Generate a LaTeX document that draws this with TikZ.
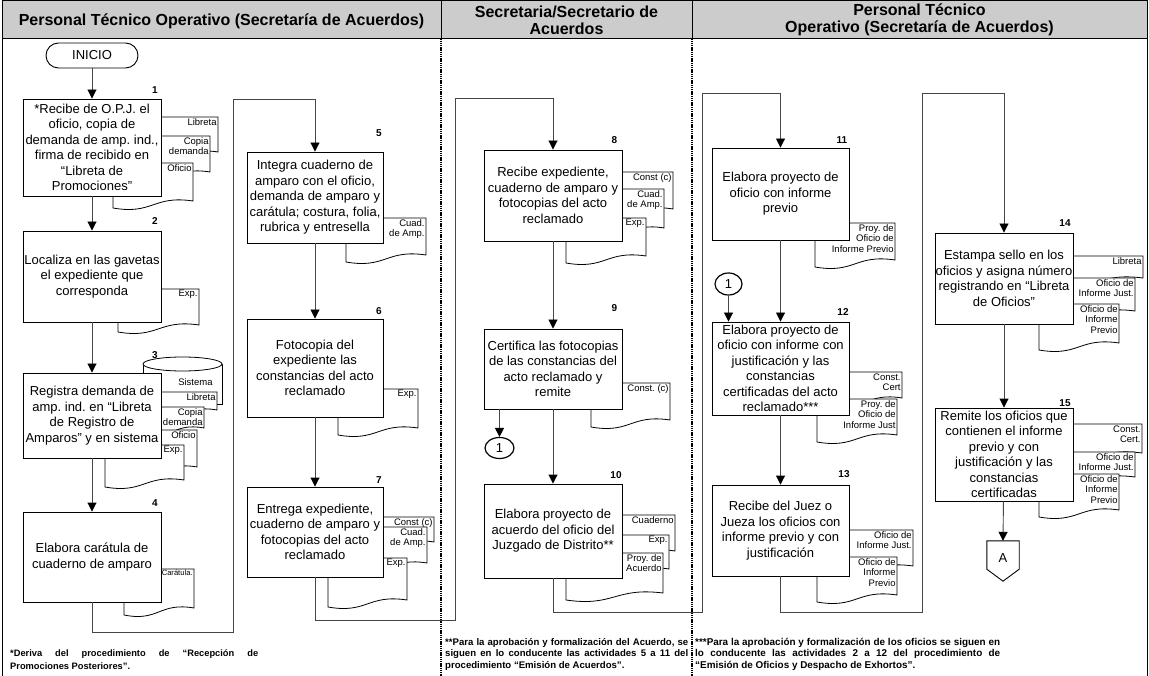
\documentclass[tikz,border=0pt]{standalone}
\usepackage{fontspec}
\setmainfont{Liberation Sans}
\usetikzlibrary{arrows.meta,shapes.geometric}
\definecolor{headfill}{RGB}{204,204,204}
\definecolor{flowgray}{RGB}{70,70,70}
\frenchspacing

% document sheet with wavy bottom: name, x1, y1, x2, y2, label
\newcommand\docsheet[6]{%
  \pgfmathsetmacro\dsmid{(#2+#4)/2}%
  \filldraw[sheet] (#2,#3) -- (#4,#3) -- (#4,#5-7)
    .. controls (\dsmid,#5-13) and (\dsmid,#5+7) .. (#2,#5) -- cycle;
  \node[doclabel] (#1) at (#4,#3) {#6};
}

\begin{document}
\begin{tikzpicture}[x=1pt,y=-1pt,
  procbox/.style={draw, fill=white, line width=0.9pt, align=center,
    inner xsep=0pt, inner ysep=1pt, font=\fontsize{13}{15.5}\selectfont},
  sheet/.style={draw, fill=white, line width=0.8pt},
  doclabel/.style={anchor=north east, align=right, inner sep=1.2pt,
    font=\fontsize{9.5}{10.5}\selectfont},
  stepnum/.style={inner sep=0pt, font=\bfseries\fontsize{10}{12}\selectfont},
  lanehead/.style={align=center, font=\bfseries\fontsize{16}{17}\selectfont},
  flow/.style={draw=flowgray, line width=0.9pt,
    -{Triangle[width=9pt,length=9pt,color=black]}},
  pageref/.style={draw, ellipse, line width=1.2pt, fill=white, inner sep=0pt,
    minimum width=29pt, minimum height=21pt, font=\fontsize{13}{15}\selectfont},
  note/.style={anchor=north west, align=left, inner sep=0pt},
  lanediv/.style={line width=2pt, dash pattern=on 1.4pt off 0.8pt},
]
\useasboundingbox (0,0) rectangle (1149,676);

% ---------- frame and lane headers ----------
\fill[headfill] (2,0.5) rectangle (1147,38.5);
\draw[line width=0.9pt] (2,676) -- (2,0.5) -- (1147,0.5) -- (1147,676);
\draw[line width=0.9pt] (2,38.5) -- (1147,38.5);
\draw[line width=0.9pt] (441,0.5) -- (441,38.5);
\draw[line width=0.9pt] (692,0.5) -- (692,38.5);
\draw[lanediv] (441,38.5) -- (441,676);
\draw[lanediv] (692,38.5) -- (692,676);

\node[lanehead] (h1) at (221.5,21) {Personal Técnico Operativo (Secretaría de Acuerdos)};
\node[lanehead] (h2) at (566.5,20) {Secretaria/Secretario de\\Acuerdos};
\node[lanehead] (h3) at (919.5,20) {Personal Técnico\\Operativo (Secretaría de Acuerdos)};

% ---------- documents (drawn back to front) ----------
% step 1
\docsheet{d1a}{140}{117}{218}{159}{Libreta}
\docsheet{d1b}{135}{136}{210}{179}{Copia\\demanda}
\docsheet{d1c}{113}{163}{193}{208}{Oficio}
% step 2
\docsheet{d2a}{118}{289}{199}{332}{Exp.}
% step 3
\filldraw[sheet] (143,364) -- (143,404) -- (222,404) -- (222,364);
\filldraw[sheet] (182.5,364) ellipse [x radius=39.5pt, y radius=7pt];
\node[doclabel] (d3s) at (214,377) {Sistema};
\docsheet{d3a}{150}{392}{217}{417}{Libreta}
\docsheet{d3b}{140}{407}{204}{435}{Copia\\demanda}
\docsheet{d3c}{130}{430}{197}{474}{Oficio}
\docsheet{d3d}{105}{445}{184}{487}{Exp.}
% step 4
\docsheet{d4a}{124}{569}{194}{615}{\fontsize{7.6}{9}\selectfont Carátula.}
% step 5
\docsheet{d5a}{346}{218}{426}{262}{Cuad.\\de Amp.}
% step 6
\docsheet{d6a}{338}{389}{418}{435}{Exp.}
% step 7
\docsheet{d7a}{360}{517}{434}{549}{Const (c)}
\docsheet{d7b}{355}{527}{427}{570}{Cuad.\\de Amp.}
\docsheet{d7c}{328}{558}{407}{607}{Exp.}
% step 8
\docsheet{d8a}{600}{172}{673}{216}{Const (c)}
\docsheet{d8b}{595}{189}{664}{235}{Cuad.\\de Amp.}
\docsheet{d8c}{566}{218}{646}{263}{Exp.}
% step 9
\docsheet{d9a}{591}{383}{670}{427}{Const. (c)}
% step 10
\docsheet{d10a}{600}{515}{675}{558}{Cuaderno}
\docsheet{d10b}{595}{535}{669}{576}{Exp.}
\docsheet{d10c}{566}{553}{663}{600}{Proy. de\\Acuerdo}
% step 11
\docsheet{d11a}{815}{223}{895}{267}{Proy. de\\Oficio de\\Informe Previo}
% step 12
\docsheet{d12a}{830}{372}{902}{405}{Const.\\Cert}
\docsheet{d12b}{817}{399}{897}{442}{Proy. de\\Oficio de\\Informe Just}
% step 13
\docsheet{d13a}{830}{530}{913}{573}{Oficio de\\Informe Just.}
\docsheet{d13b}{817}{557}{897}{602}{Oficio de\\Informe\\Previo}
% step 14
\docsheet{d14a}{1050}{256}{1143}{285}{Libreta}
\docsheet{d14b}{1045}{278}{1135}{318}{Oficio de\\Informe Just.}
\docsheet{d14c}{1039}{304}{1119}{350}{Oficio de\\Informe\\Previo}
% step 15
\docsheet{d15a}{1050}{424}{1142}{460}{Const.\\Cert.}
\docsheet{d15b}{1045}{452}{1135}{484}{Oficio de\\Informe Just.}
\docsheet{d15c}{1039}{474}{1119}{517}{Oficio de\\Informe\\Previo}

% ---------- start terminal and activities ----------
\node[draw, fill=white, line width=0.9pt, rounded corners=12.5pt,
  minimum width=92pt, minimum height=25pt, inner sep=0pt,
  font=\fontsize{13}{15}\selectfont] (ini) at (92,55.5) {INICIO};

\node[procbox, minimum width=138pt, minimum height=97pt] (b1) at (92,147.5)
  {*Recibe de O.P.J. el\\oficio, copia de\\demanda de amp. ind.,\\firma de recibido en\\“Libreta de\\Promociones”};
\node[procbox, minimum width=138pt, minimum height=91pt] (b2) at (92,276.5)
  {Localiza en las gavetas\\el expediente que\\corresponda};
\node[procbox, minimum width=138pt, minimum height=85pt] (b3) at (92,415.5)
  {Registra demanda de\\amp. ind. en “Libreta\\de Registro de\\Amparos” y en sistema};
\node[procbox, minimum width=138pt, minimum height=90pt] (b4) at (92,557)
  {Elabora carátula de\\cuaderno de amparo};

\node[procbox, minimum width=136pt, minimum height=91pt] (b5) at (315,197.5)
  {Integra cuaderno de\\amparo con el oficio,\\demanda de amparo y\\carátula; costura, folia,\\rubrica y entresella};
\node[procbox, minimum width=136pt, minimum height=98pt] (b6) at (315,368)
  {Fotocopia del\\expediente las\\constancias del acto\\reclamado};
\node[procbox, minimum width=136pt, minimum height=90pt] (b7) at (315,532)
  {Entrega expediente,\\cuaderno de amparo y\\fotocopias del acto\\reclamado};

\node[procbox, minimum width=138pt, minimum height=91pt] (b8) at (553,195.5)
  {Recibe expediente,\\cuaderno de amparo y\\fotocopias del acto\\reclamado};
\node[procbox, minimum width=138pt, minimum height=80pt] (b9) at (553,369)
  {Certifica las fotocopias\\de las constancias del\\acto reclamado y\\remite};
\node[procbox, minimum width=138pt, minimum height=94pt] (b10) at (553,531)
  {Elabora proyecto de\\acuerdo del oficio del\\Juzgado de Distrito**};

\node[procbox, minimum width=137pt, minimum height=92pt] (b11) at (780.5,194)
  {Elabora proyecto de\\oficio con informe\\previo};
\node[procbox, minimum width=137pt, minimum height=93pt] (b12) at (780.5,368.5)
  {Elabora proyecto de\\oficio con informe con\\justificación y las\\constancias\\certificadas del acto\\reclamado***};
\node[procbox, minimum width=137pt, minimum height=91pt] (b13) at (780.5,530.5)
  {Recibe del Juez o\\Jueza los oficios con\\informe previo y con\\justificación};

\node[procbox, minimum width=138pt, minimum height=91pt] (b14) at (1004,278.5)
  {Estampa sello en los\\oficios y asigna número\\registrando en “Libreta\\de Oficios”};
\node[procbox, minimum width=138pt, minimum height=93pt] (b15) at (1004,454.5)
  {Remite los oficios que\\contienen el informe\\previo y con\\justificación y las\\constancias\\certificadas};

% ---------- step numbers ----------
\node[stepnum] (n1) at (155,90) {1};
\node[stepnum] (n2) at (155,221) {2};
\node[stepnum] (n3) at (155,355) {3};
\node[stepnum] (n4) at (155,503) {4};
\node[stepnum] (n5) at (379,133) {5};
\node[stepnum] (n6) at (379,311) {6};
\node[stepnum] (n7) at (379,480) {7};
\node[stepnum] (n8) at (614.5,140) {8};
\node[stepnum] (n9) at (614.5,308.5) {9};
\node[stepnum] (n10) at (616,475) {10};
\node[stepnum] (n11) at (842,140) {11};
\node[stepnum] (n12) at (843,312) {12};
\node[stepnum] (n13) at (844,474) {13};
\node[stepnum] (n14) at (1065,223.5) {14};
\node[stepnum] (n15) at (1065,403.5) {15};

% ---------- on-page references and off-page connector ----------
\node[pageref] (c1) at (499.5,448) {1};
\node[pageref, minimum width=27pt, minimum height=22pt] (c2) at (728.5,284) {1};
\node[inner sep=0pt, minimum width=32pt, minimum height=34pt,
  font=\fontsize{13}{15}\selectfont] (A) at (1003,558) {A};
\draw[line width=0.9pt] (A.north west) -- (A.north east) -- ([yshift=6pt]A.south east)
  -- ([yshift=-6pt]A.south) -- ([yshift=6pt]A.south west) -- cycle;

% ---------- flow ----------
\draw[flow] (ini) -- (b1);
\draw[flow] (b1) -- (b2);
\draw[flow] (b2) -- (b3);
\draw[flow] (b3) -- (b4);
\coordinate (k1) at (233,632);
\coordinate (k2) at (233,99);
\draw[flow] (b4.south) |- (k1) -- (k2) -| (b5.north);
\draw[flow] (b5) -- (b6);
\draw[flow] (b6) -- (b7);
\coordinate (k3) at (455,620);
\coordinate (k4) at (455,98);
\draw[flow] (b7.south) |- (k3) -- (k4) -| (b8.north);
\draw[flow] (b8) -- (b9);
\draw[flow] (c1 |- b9.south) -- (c1.north);
\draw[flow] (b9) -- (b10);
\coordinate (k5) at (702,612);
\coordinate (k6) at (702,93);
\draw[flow] (b10.south) |- (k5) -- (k6) -| (b11.north);
\draw[flow] (b11) -- (b12);
\draw[flow] (c2.south) -- (c2 |- b12.north);
\draw[flow] (b12) -- (b13);
\coordinate (k7) at (922,612);
\coordinate (k8) at (922,93);
\draw[flow] (b13.south) |- (k7) -- (k8) -| (b14.north);
\draw[flow] (b14) -- (b15);
\draw[flow] (b15) -- (A.north);

% ---------- footnotes ----------
\node[note, font=\bfseries\fontsize{9.3}{13}\selectfont] (f1) at (10,649)
  {\makebox[248pt][s]{*Deriva del procedimiento de “Recepción de}\\Promociones Posteriores”.};
\node[note, font=\bfseries\fontsize{9.6}{11.5}\selectfont] (f2) at (445,638)
  {\makebox[243pt][s]{**Para la aprobación y formalización del Acuerdo, se}\\
   \makebox[243pt][s]{siguen en lo conducente las actividades 5 a 11 del}\\
   procedimiento “Emisión de Acuerdos”.};
\node[note, font=\bfseries\fontsize{9.9}{11.5}\selectfont] (f3) at (695,638)
  {\makebox[305pt][s]{***Para la aprobación y formalización de los oficios se siguen en}\\
   \makebox[305pt][s]{lo conducente las actividades 2 a 12 del procedimiento de}\\
   “Emisión de Oficios y Despacho de Exhortos”.};
\end{tikzpicture}
\end{document}
